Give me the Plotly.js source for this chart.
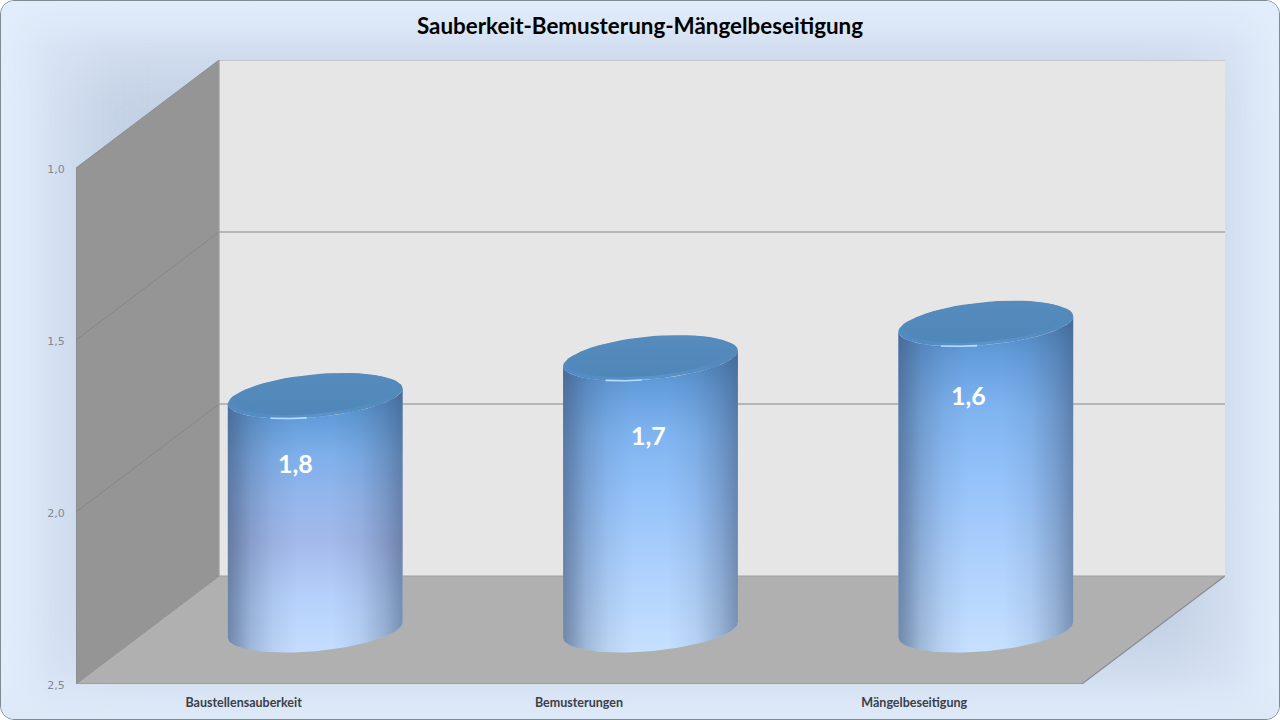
<!DOCTYPE html>
<html><head><meta charset="utf-8">
<script src="https://cdn.plot.ly/plotly-3.0.0.min.js"></script>
<style>
html,body{margin:0;padding:0;width:1280px;height:720px;overflow:hidden;background:#fff}
#frame{position:absolute;left:0;top:0;width:1278px;height:718px;border:1px solid #7f8a93;border-radius:14px;overflow:hidden;
background:linear-gradient(90deg,#e2edfb 0,#dae6f6 50px,#dae6f6 1230px,#e2edfb 100%);}
#glow{position:absolute;left:74px;top:60px;width:1140px;height:606px;background:#c2d0e4;filter:blur(32px)}
#fade{position:absolute;left:0;top:0;width:100%;height:100%;background:linear-gradient(180deg,rgba(226,237,251,.9) 0,rgba(226,237,251,0) 46px,rgba(226,237,251,0) 674px,rgba(222,233,248,.9) 716px)}
#chart{position:absolute;left:0;top:0;width:1280px;height:720px}
</style></head><body>
<div id="frame"><div id="glow"></div><div id="fade"></div></div><div id="chart"></div>
<script>
const chartTitle = 'Sauberkeit-Bemusterung-Mängelbeseitigung';
const categories = ['Baustellensauberkeit','Bemusterungen','Mängelbeseitigung'];
const values = [1.82,1.71,1.61];
const yTicks = [1.0,1.5,2.0,2.5];
const labelNudgeX = [-20,-2,-17];
const labelNudgeY = [67,77,71];

const FONT = 'Lato, Carlito, "Noto Sans", sans-serif';
const yTop = 1.0, yBase = 2.5;
const depthX = 143/335, depthY = 108/344;   // wall depth in axis units
const A = 82/335, B = 30/335, C = 22.5/344; // column ellipse
const t0 = Math.atan2(B,A);
const traces = [];

function poly(xs,ys,fill,extra){
  traces.push(Object.assign({type:'scatter',mode:'lines',x:xs,y:ys,fill:'toself',fillcolor:fill,line:{width:0},hoverinfo:'skip',showlegend:false},extra||{}));
}
function seg(xs,ys,color,width){
  traces.push({type:'scatter',mode:'lines',x:xs,y:ys,line:{color:color,width:width},hoverinfo:'skip',showlegend:false});
}
function arc(cx,cy,from,to,scale){
  const xs=[],ys=[],n=60,s=scale||1;
  for(let k=0;k<=n;k++){const t=from+(to-from)*k/n;
    xs.push(cx+s*(A*Math.cos(t)+B*Math.sin(t))); ys.push(cy-s*C*Math.sin(t));}
  return [xs,ys];
}
const n = categories.length;
const topBack = yTop-depthY, baseBack = yBase-depthY;
poly([depthX,n+depthX,n+depthX,depthX,depthX],[topBack,topBack,baseBack,baseBack,topBack],'#e6e6e6');
poly([0,depthX,depthX,0,0],[yTop,topBack,baseBack,yBase,yTop],'#959595');
poly([0,n,n+depthX,depthX,0],[yBase,yBase,baseBack,baseBack,yBase],'#b0b0b0');
yTicks.slice(0,3).forEach((v,i)=>{
  seg([depthX,n+depthX],[v-depthY,v-depthY],'#a6a6a6',i===0?1:1.6);
  if(i>0) seg([0,depthX],[v,v-depthY],'#868686',1);
});
seg([0,depthX],[yTop,topBack],'#8c8c8c',1);
seg([0,0,n,n+depthX],[yTop,yBase,yBase,baseBack],'#868c94',1.2);
seg([0,depthX],[yBase,baseBack],'#8f8f8f',1);
seg([depthX,n+depthX],[baseBack,baseBack],'#a0a0a0',1.2);
seg([depthX,depthX],[topBack,baseBack],'#a0a0a0',1);

const bodyStops=[
 [[0,'#c4ddff'],[0.2,'#b6d2fb'],[0.42,'#a3b9ea'],[0.58,'#95b6ec'],[0.75,'#7dafea'],[0.9,'#609bd8'],[1,'#4c86c0']],
 [[0,'#c6e0ff'],[0.25,'#b0d2fd'],[0.5,'#96c3fa'],[0.72,'#7fb4f0'],[0.88,'#649edc'],[1,'#4c86c0']],
 [[0,'#c6e0ff'],[0.25,'#b0d2fd'],[0.5,'#96c3fa'],[0.72,'#7fb4f0'],[0.88,'#649edc'],[1,'#4c86c0']]
];
const sideShade=[[0,'rgba(62,84,118,0.62)'],[0.05,'rgba(62,84,118,0.5)'],[0.13,'rgba(62,84,118,0.28)'],[0.26,'rgba(62,84,118,0.09)'],[0.4,'rgba(62,84,118,0)'],[0.6,'rgba(62,84,118,0)'],[0.76,'rgba(62,84,118,0.1)'],[0.9,'rgba(62,84,118,0.32)'],[1,'rgba(62,84,118,0.55)']];
const annotations=[];
values.forEach((v,i)=>{
  const cat=i+0.5+depthX/2, cy=v-depthY/2, by=yBase-depthY/2;
  const top=arc(cat,cy,t0+Math.PI,t0+2*Math.PI), bot=arc(cat,by,t0+2*Math.PI,t0+Math.PI);
  const bx=top[0].concat(bot[0],[top[0][0]]), bY=top[1].concat(bot[1],[top[1][0]]);
  poly(bx,bY,'#8fbdf4',{fillgradient:{type:'vertical',colorscale:bodyStops[i]}});
  poly(bx,bY,'rgba(0,0,0,0)',{fillgradient:{type:'horizontal',colorscale:sideShade}});
  const rim=arc(cat,cy,0,2*Math.PI);
  poly(rim[0],rim[1],'#5a93ca',{fillgradient:{type:'horizontal',colorscale:[[0,'#5189c0'],[0.5,'#5a94cc'],[1,'#5288ba']]}});
  const inner=arc(cat,cy-0.006,0,2*Math.PI,0.94);
  poly(inner[0],inner[1],'#5287b8',{fillgradient:{type:'vertical',colorscale:[[0,'#5087b9'],[1,'#558bbd']]}});
  const hl=arc(cat,cy,1.44*Math.PI,1.58*Math.PI);
  seg(hl[0],hl[1],'#b5e0ff',1.6);
  annotations.push({x:cat,y:cy,text:'<b>'+v.toFixed(1).replace('.',',')+'</b>',showarrow:false,xshift:labelNudgeX[i],yshift:-labelNudgeY[i],
    font:{family:FONT,size:25,color:'#ffffff'}});
});

const layout={
  width:1280,height:720,paper_bgcolor:'rgba(0,0,0,0)',plot_bgcolor:'rgba(0,0,0,0)',showlegend:false,
  margin:{l:76,r:55,t:60,b:36,pad:0},
  title:{text:'<b>'+chartTitle+'</b>',font:{family:FONT,size:22.4,color:'#000'},x:0.5,xanchor:'center',y:1-26/720,yanchor:'middle'},
  xaxis:{range:[0,n+depthX],tickmode:'array',tickvals:categories.map((c,i)=>i+0.5),ticktext:categories.map(c=>'<b>'+c+'</b>'),showgrid:false,zeroline:false,showline:false,
    ticks:'outside',ticklen:7,tickcolor:'rgba(0,0,0,0)',tickfont:{family:FONT,size:12.5,color:'#3a3f4a'},tickangle:0,fixedrange:true},
  yaxis:{range:[yBase,topBack],tickmode:'array',tickvals:yTicks,ticktext:yTicks.map(v=>v.toFixed(1).replace('.',',')),showgrid:false,zeroline:false,showline:false,
    ticks:'outside',ticklen:8,tickcolor:'rgba(0,0,0,0)',ticklabelshift:-1,tickfont:{family:'"DejaVu Sans",sans-serif',size:11,color:'#808890'},fixedrange:true},
  annotations
};
Plotly.newPlot('chart',traces,layout,{displayModeBar:false,staticPlot:true});
</script></body></html>
